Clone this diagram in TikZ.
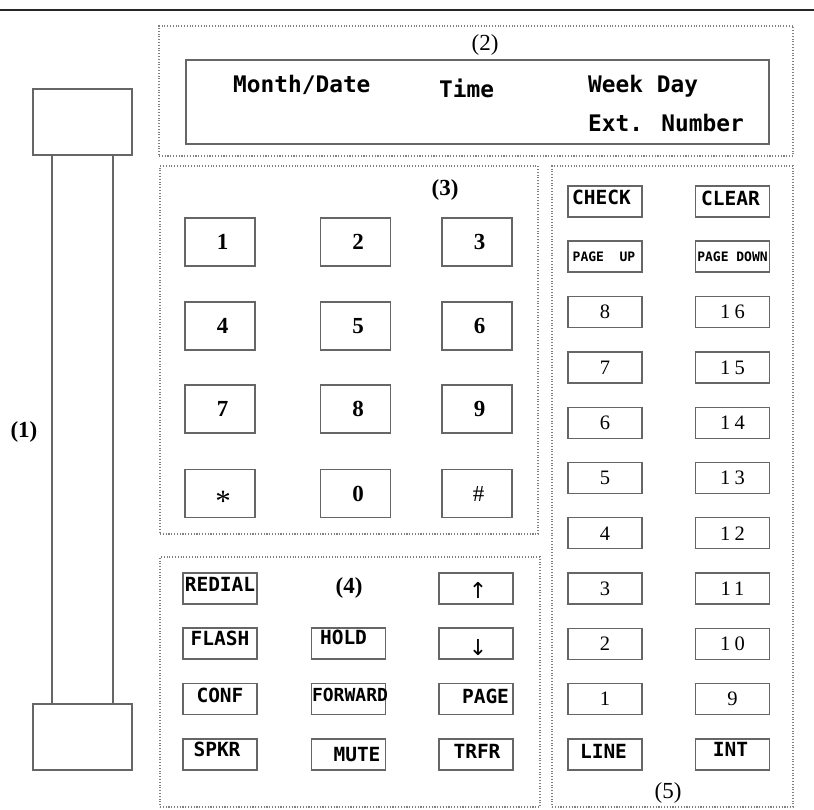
\documentclass[tikz,border=0pt]{standalone}
\usepackage{fontspec}
\setmainfont{Liberation Serif}
\newfontfamily\monofnt{DejaVu Sans Mono}
\newfontfamily\symfnt{DejaVu Sans}
\newfontfamily\numfnt[LetterSpace=20]{Liberation Serif}
\begin{document}
\begin{tikzpicture}[x=1pt,y=-1pt,
  panel/.style={draw=black!50, line width=1.3pt, dash pattern=on 1.1pt off 1.7pt, inner sep=0pt},
  hand/.style={draw=black!60, line width=1.3pt, inner sep=0pt, fill=white},
  keyA/.style={draw=black!60, line width=1.3pt, minimum width=70pt, minimum height=48pt, inner sep=0pt,
    font={\bfseries\fontsize{23}{24}\selectfont}},
  keyB/.style={draw=black!60, line width=1.3pt, minimum width=74pt, minimum height=31pt, inner sep=0pt},
  numkey/.style={keyB, font={\numfnt\fontsize{20.5}{22}\selectfont}},
  ktxt/.style={inner sep=0pt, font={\monofnt\bfseries\fontsize{19.5}{20}\selectfont}},
  smtxt/.style={inner sep=0pt, font={\monofnt\bfseries\fontsize{13}{14}\selectfont}},
  dtxt/.style={inner sep=0pt, anchor=base west, font={\monofnt\bfseries\fontsize{22.8}{24}\selectfont}},
  arr/.style={inner sep=0pt, font={\symfnt\fontsize{22}{24}\selectfont}},
  plab/.style={inner sep=0pt, font={\fontsize{23}{25}\selectfont}},
  plabb/.style={inner sep=0pt, font={\bfseries\fontsize{23}{25}\selectfont}}
]
\useasboundingbox (0,0) rectangle (814,810);
\fill[white] (0,0) rectangle (814,810);
% top rule
\coordinate (ruleL) at (0,10);
\coordinate (ruleR) at (814,10);
\draw[line width=2.5pt, black!85] (ruleL) -- (ruleR);

% handset (1)
\node[hand, minimum width=61pt, minimum height=549pt] (hshaft) at (82.5,429.5) {};
\node[hand, minimum width=99pt, minimum height=66pt] (htop) at (82.5,122) {};
\node[hand, minimum width=99pt, minimum height=66pt] (hbot) at (82.5,737) {};
\node[plabb] (lab1) at (24,432) {(1)};

% panel (2)
\node[panel, minimum width=634pt, minimum height=130pt] (p2) at (476,91) {};
\node[plab] (lab2) at (485,45) {(2)};
\node[draw=black!60, line width=1.3pt, minimum width=583pt, minimum height=84pt, inner sep=0pt] (disp) at (477.5,102) {};
\node[dtxt] (md) at (233,93) {Month/Date};
\node[dtxt] (tm) at (439,98) {Time};
\node[dtxt] (wd) at (588,93) {Week Day};
\node[dtxt] (en) at (588,132) {Ext. Number};

% panel (3)
\node[panel, minimum width=378pt, minimum height=368pt] (p3) at (349,350) {};
\node[plabb] (lab3) at (445,190) {(3)};
\node[keyA] (k1) at (220,242) {};
\node[keyA] (k2) at (355.5,242) {};
\node[keyA] (k3) at (477,242) {};
\node[keyA] (k4) at (220,326) {};
\node[keyA] (k5) at (355.5,326) {};
\node[keyA] (k6) at (477,326) {};
\node[keyA] (k7) at (220,409) {};
\node[keyA] (k8) at (355.5,409) {};
\node[keyA] (k9) at (477,409) {};
\node[keyA] (kst) at (220,493.5) {};
\node[keyA] (k0) at (355.5,493.5) {};
\node[keyA] (khs) at (477,493.5) {};
\foreach \k/\t in {k1/1,k2/2,k3/3,k4/4,k5/5,k6/6,k7/7,k8/8,k9/9,k0/0}{
  \node[inner sep=0pt, font={\bfseries\fontsize{23}{24}\selectfont}, xshift=2.5pt] (\k t) at (\k) {\t};
}
\node[inner sep=0pt, font={\fontsize{31}{32}\selectfont}, xshift=3pt, yshift=-7.5pt] (kstt) at (kst) {*};
\node[inner sep=0pt, font={\fontsize{23}{24}\selectfont}, xshift=1.5pt] (khst) at (khs) {\#};

% panel (4)
\node[panel, minimum width=380pt, minimum height=250pt] (p4) at (350,682) {};
\node[plabb] (lab4) at (349,588) {(4)};
\node[keyB] (redial) at (220,588.5) {};
\node[keyB] (flash) at (220,643.5) {};
\node[keyB] (conf) at (220,699) {};
\node[keyB] (spkr) at (220,754.5) {};
\node[keyB] (hold) at (348.5,643.5) {};
\node[keyB] (fwd) at (348.5,699) {};
\node[keyB] (mute) at (348.5,754.5) {};
\node[keyB] (up) at (476,588.5) {};
\node[keyB] (down) at (476,643.5) {};
\node[keyB] (page) at (476,699) {};
\node[keyB] (trfr) at (476,754.5) {};
\node[ktxt, yshift=4.5pt] (redialt) at (redial) {REDIAL};
\node[ktxt, yshift=5pt] (flasht) at (flash) {FLASH};
\node[ktxt, yshift=4pt] (conft) at (conf) {CONF};
\node[ktxt, xshift=-3pt, yshift=5pt] (spkrt) at (spkr) {SPKR};
\node[ktxt, xshift=-5pt, yshift=6pt] (holdt) at (hold) {HOLD};
\node[ktxt, xshift=1.5pt, yshift=4pt, font={\monofnt\bfseries\fontsize{18}{20}\selectfont}] (fwdt) at (fwd) {FORWARD};
\node[ktxt, xshift=8.5pt] (mutet) at (mute) {MUTE};
\node[ktxt, xshift=9.5pt, yshift=3pt] (paget) at (page) {PAGE};
\node[ktxt, xshift=1pt, yshift=3.5pt] (trfrt) at (trfr) {TRFR};
\node[arr, xshift=2pt, yshift=-1.5pt] (upt) at (up) {↑};
\node[arr, xshift=2pt, yshift=-4.5pt] (downt) at (down) {↓};

% panel (5)
\node[panel, minimum width=241pt, minimum height=641pt] (p5) at (672.5,486.5) {};
\node[plab] (lab5) at (668,793) {(5)};
\node[keyB] (check) at (605,201.5) {};
\node[keyB] (clear) at (732.5,201.5) {};
\node[keyB] (pgup) at (605,256.5) {};
\node[keyB] (pgdn) at (732.5,256.5) {};
\foreach \i in {2,...,9}{
  \pgfmathtruncatemacro\lnum{10-\i}
  \pgfmathtruncatemacro\rnum{18-\i}
  \node[numkey] (L\lnum) at (605,{201.5+55.3*\i}) {\lnum};
  \node[numkey] (R\rnum) at (732.5,{201.5+55.3*\i}) {\rnum};
}
\node[keyB] (line) at (605,754.5) {};
\node[keyB] (int) at (732.5,754.5) {};
\node[ktxt, xshift=-3.5pt, yshift=4.5pt] (checkt) at (check) {CHECK};
\node[ktxt, xshift=-2pt, yshift=3.5pt] (cleart) at (clear) {CLEAR};
\node[smtxt, xshift=-1pt, yshift=-0.5pt] (pgupt) at (pgup) {PAGE\ \ UP};
\node[smtxt, yshift=-0.5pt] (pgdnt) at (pgdn) {PAGE DOWN};
\node[ktxt, xshift=-1.5pt, yshift=3.5pt] (linet) at (line) {LINE};
\node[ktxt, xshift=-2pt, yshift=5.5pt] (intt) at (int) {INT};
\end{tikzpicture}
\end{document}
